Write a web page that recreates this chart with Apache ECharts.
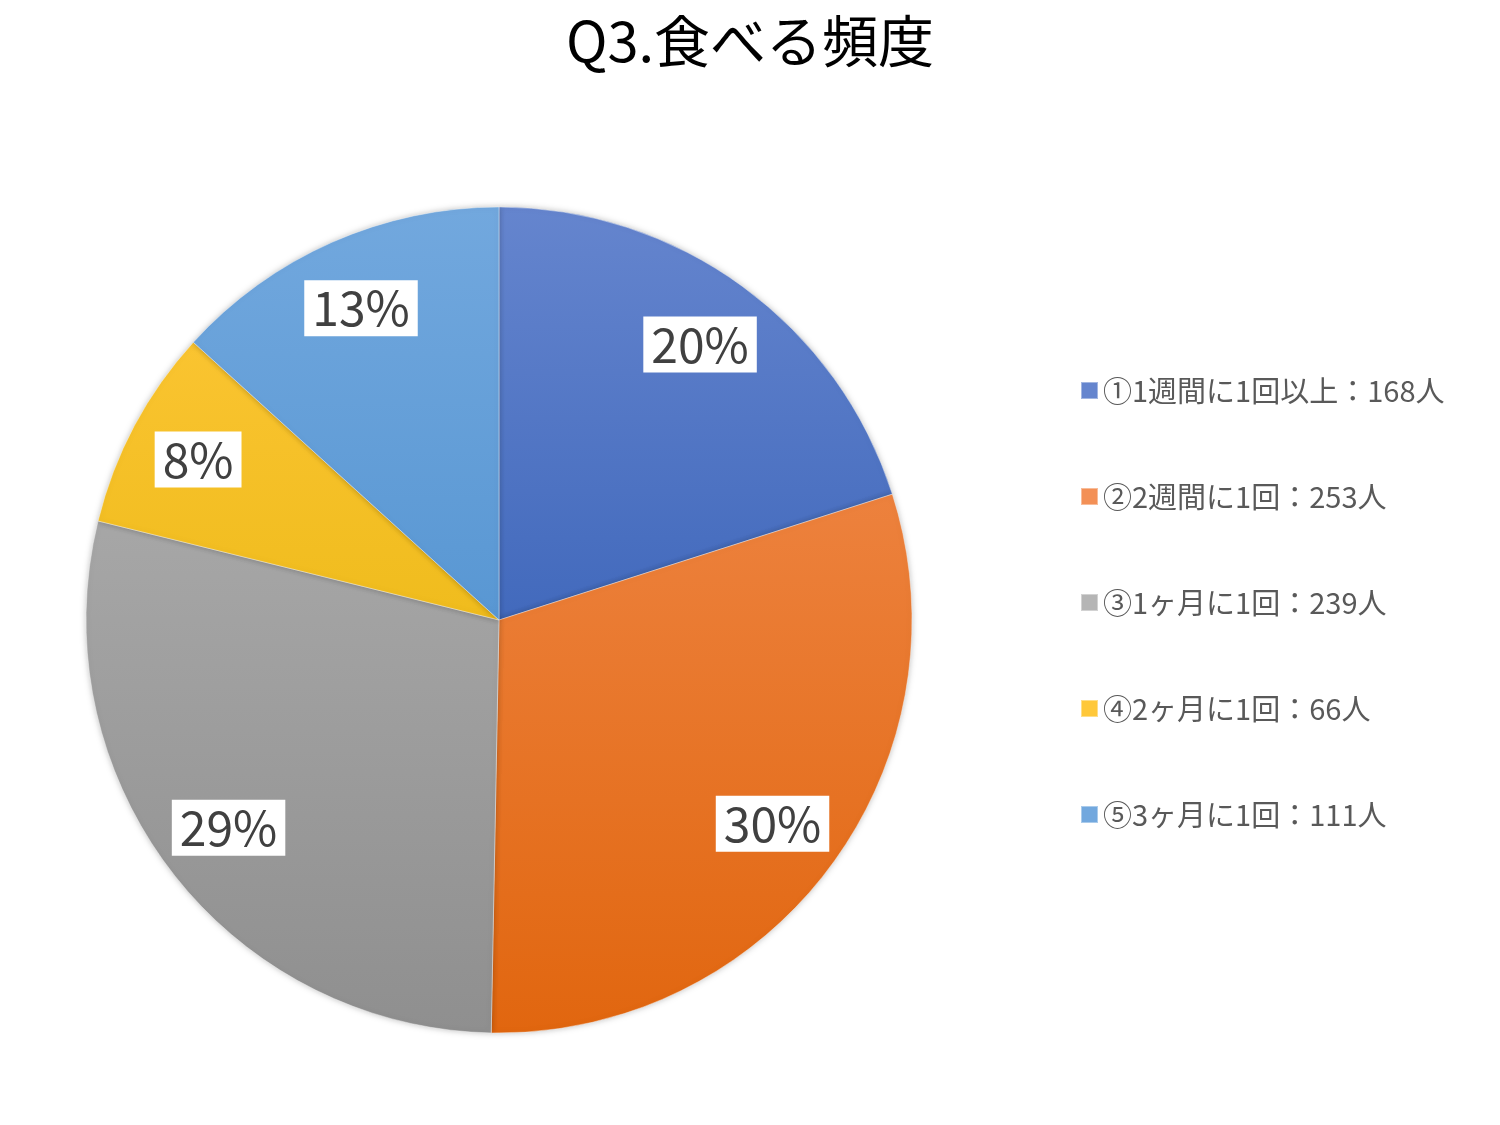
<!DOCTYPE html>
<html><head><meta charset="utf-8">
<script src="https://cdn.jsdelivr.net/npm/echarts@6/dist/echarts.min.js"></script>
<style>html,body{margin:0;background:#fff}#c{width:1500px;height:1125px}</style>
</head><body><div id="c"></div>
<script>
const categories = ['①1週間に1回以上：168人','②2週間に1回：253人','③1ヶ月に1回：239人','④2ヶ月に1回：66人','⑤3ヶ月に1回：111人'];
const values = [168, 253, 239, 66, 111];
const gradTop = ['#6585ce','#f39056','#b5b5b5','#ffc83a','#72a8de'];
const gradBot = ['#1f4eab','#e1660f','#8f8f8f','#e0b000','#3f86c8'];
const font = '"Noto Sans CJK JP","Noto Sans",sans-serif';
const total = values.reduce((a,b)=>a+b,0);
const grad = i => ({type:'linear',global:true,x:0,y:207,x2:0,y2:1033,
  colorStops:[{offset:0,color:gradTop[i]},{offset:1,color:gradBot[i]}]});
const chart = echarts.init(document.getElementById('c'));
chart.setOption({
  animation:false,
  title:{text:'Q3.食べる頻度',left:'center',top:8,textStyle:{fontFamily:font,fontSize:56,fontWeight:'normal',color:'#000'}},
  legend:{orient:'vertical',left:1075,top:371,itemGap:77,itemWidth:17,itemHeight:17,icon:'rect',
    textStyle:{fontFamily:font,fontSize:29,color:'#595959'},data:categories},
  series:[
    {type:'pie',center:[499,620],radius:[0,413],startAngle:90,clockwise:true,silent:true,
     label:{show:false},labelLine:{show:false},
     itemStyle:{borderColor:'rgba(255,255,255,0.4)',borderWidth:1,shadowBlur:6,shadowColor:'rgba(0,0,0,0.25)'},
     data:categories.map((n,i)=>({name:n,value:values[i],itemStyle:{color:grad(i)}}))},
    {type:'pie',center:[499,620],radius:[0,676],startAngle:90,clockwise:true,silent:true,
     legendHoverLink:false,
     itemStyle:{color:'rgba(0,0,0,0)'},
     label:{show:true,position:'inside',fontFamily:font,fontSize:48,color:'#404040',
       backgroundColor:'#fff',padding:[6,8,2,8],
       formatter:p=>Math.round(p.value/total*100)+'%'},
     labelLine:{show:false},
     data:categories.map((n,i)=>({name:n+' ',value:values[i]}))}
  ]
});
</script></body></html>
